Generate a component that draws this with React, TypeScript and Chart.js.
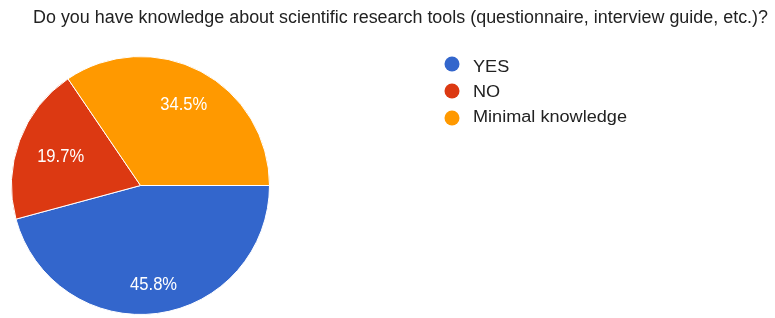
import React, { useEffect, useRef } from "react";
import { Chart, registerables } from "chart.js";

Chart.register(...registerables);

const title = "Do you have knowledge about scientific research tools (questionnaire, interview guide, etc.)?";
const categories = ["YES", "NO", "Minimal knowledge"];
const values = [45.8, 19.7, 34.5];
const colors = ["#3366cc", "#dc3912", "#ff9900"];

const FAMILY = "'Liberation Sans', Arial, sans-serif";

function drawScaled(ctx: any, text: string, x: number, y: number, sx: number, align: string) {
  ctx.save();
  ctx.translate(x, y);
  ctx.scale(sx, 1);
  ctx.textAlign = align;
  ctx.fillText(text, 0, 0);
  ctx.restore();
}

const titlePlugin = {
  id: "customTitle",
  afterDraw(chart: any) {
    const ctx = chart.ctx;
    ctx.save();
    ctx.font = `18px ${FAMILY}`;
    const sx = 735 / ctx.measureText(title).width;
    ctx.fillStyle = "#222222";
    ctx.textBaseline = "middle";
    drawScaled(ctx, title, 33, 18, sx, "left");
    ctx.restore();
  },
};

const legendPlugin = {
  id: "customLegend",
  afterDraw(chart: any) {
    const ctx = chart.ctx;
    const labels = chart.data.labels as string[];
    const bg = chart.data.datasets[0].backgroundColor as string[];
    ctx.save();
    ctx.font = `16px ${FAMILY}`;
    ctx.textBaseline = "middle";
    const widest = Math.max(...labels.map((l) => ctx.measureText(l).width));
    const sx = 154 / widest;
    labels.forEach((lab, i) => {
      const cy = 64 + i * 27;
      ctx.fillStyle = bg[i];
      ctx.beginPath();
      ctx.arc(452, cy, 7.5, 0, Math.PI * 2);
      ctx.fill();
      ctx.fillStyle = "#222222";
      drawScaled(ctx, lab, 473, cy + 4 - i * 2, sx, "left");
    });
    ctx.restore();
  },
};

const labelPlugin = {
  id: "sliceLabels",
  afterDatasetsDraw(chart: any) {
    const ctx = chart.ctx;
    const meta = chart.getDatasetMeta(0);
    const data = chart.data.datasets[0].data as number[];
    const total = data.reduce((a, b) => a + b, 0);
    ctx.save();
    ctx.font = `18px ${FAMILY}`;
    ctx.fillStyle = "#ffffff";
    ctx.textBaseline = "middle";
    const sample = ((data[0] / total) * 100).toFixed(1) + "%";
    const sx = 47 / ctx.measureText(sample).width;
    meta.data.forEach((arc: any, i: number) => {
      const { x, y, startAngle, endAngle, outerRadius } = arc.getProps(
        ["x", "y", "startAngle", "endAngle", "outerRadius"],
        true
      );
      const mid = (startAngle + endAngle) / 2;
      const pct = ((data[i] / total) * 100).toFixed(1) + "%";
      const hw = (ctx.measureText(pct).width * sx) / 2;
      const hh = 7;
      const extent = hw * Math.abs(Math.cos(mid)) + hh * Math.abs(Math.sin(mid));
      const r = outerRadius * 0.85 - extent;
      drawScaled(ctx, pct, x + Math.cos(mid) * r, y + Math.sin(mid) * r + 1, sx, "center");
    });
    ctx.restore();
  },
};

export default function App() {
  const ref = useRef<HTMLCanvasElement>(null);
  useEffect(() => {
    document.body.style.margin = "0";
    const chart = new Chart(ref.current!, {
      type: "pie",
      data: {
        labels: categories,
        datasets: [
          {
            data: values,
            backgroundColor: colors,
            borderColor: "#ffffff",
            borderWidth: 1,
          },
        ],
      },
      options: {
        animation: false,
        responsive: false,
        rotation: 90,
        layout: { padding: { left: 11, right: 505, top: 56, bottom: 3 } },
        plugins: {
          legend: { display: false },
          tooltip: { enabled: false },
          title: { display: false },
        },
      },
      plugins: [titlePlugin, legendPlugin, labelPlugin],
    });
    return () => chart.destroy();
  }, []);
  return (
    <div style={{ width: 775, height: 318, background: "#ffffff" }}>
      <canvas ref={ref} width={775} height={318} style={{ display: "block" }} />
    </div>
  );
}
